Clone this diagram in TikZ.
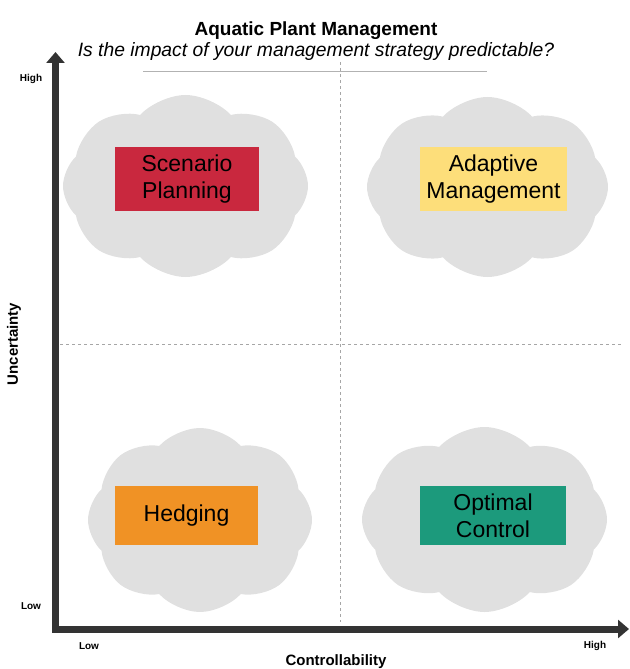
\documentclass[tikz,border=0pt]{standalone}
\usepackage{fontspec}
\setmainfont{Liberation Sans}
\usepackage{xcolor}
\usepackage{tikz}
\usetikzlibrary{arrows.meta,shapes.symbols}

\definecolor{axisgray}{HTML}{333333}
\definecolor{cloudgray}{HTML}{E0E0E0}
\definecolor{spred}{HTML}{C9283E}
\definecolor{amyellow}{HTML}{FDDE7A}
\definecolor{hedgeorange}{HTML}{F09225}
\definecolor{ocgreen}{HTML}{1C9A7C}

\begin{document}
\begin{tikzpicture}[x=1pt, y=-1pt,
  puff/.style={cloud, cloud puffs=8, cloud puff arc=95, cloud ignores aspect,
    fill=cloudgray, draw=none, inner sep=0pt, shape border rotate=10},
  strategy/.style={rectangle, draw=none, inner sep=0pt, align=center,
    font=\fontsize{23}{27}\selectfont},
  tick/.style={font=\bfseries\fontsize{10}{12}\selectfont},
  axislabel/.style={font=\bfseries\fontsize{15}{18}\selectfont},
  axis/.style={draw=axisgray, line width=7pt, line join=miter,
    {Triangle[width=18pt,length=11pt]}-{Triangle[width=18pt,length=11pt]}}]
\useasboundingbox (0,0) rectangle (629,669);
\def\midx{340}
\def\midy{344}
% clouds
\node[puff, minimum width=245pt, minimum height=182pt] (cloudtl) at (185.5,186) {};
\node[puff, minimum width=241pt, minimum height=180pt] (cloudtr) at (487.5,187) {};
\node[puff, minimum width=224pt, minimum height=184pt] (cloudbl) at (200,520) {};
\node[puff, minimum width=245pt, minimum height=185pt] (cloudbr) at (484.5,519.5) {};
% quadrant lines
\draw[gray!60, line width=0.8pt] (143,71) -- (487,71);
\draw[gray!70, dashed, line width=0.8pt] (\midx,62) -- (\midx,622);
\draw[gray!70, dashed, line width=0.8pt] (60,\midy) -- (622,\midy);
% strategies
\node[strategy, fill=spred, minimum width=144pt, minimum height=64pt] (sp) at (187,179) {Scenario\\Planning};
\node[strategy, fill=amyellow, minimum width=147pt, minimum height=64pt] (am) at (493.5,179) {Adaptive\\Management};
\node[strategy, fill=hedgeorange, minimum width=143pt, minimum height=59pt] (hedge) at (186.5,515.5) {Hedging};
\node[strategy, fill=ocgreen, minimum width=146pt, minimum height=59pt] (oc) at (493,515.5) {Optimal\\Control};
% axes
\coordinate (ytip) at (55.5,52);
\coordinate (origin) at (55.5,629);
\coordinate (xtip) at (629,629);
\draw[axis] (ytip) -- (origin) -- (xtip);
\node[tick] (yhigh) at (31,79) {High};
\node[tick] (ylow) at (31,606) {Low};
\node[tick] (xlow) at (89,646) {Low};
\node[tick] (xhigh) at (595,646) {High};
\node[axislabel] (xname) at (336,662) {Controllability};
\node[axislabel, rotate=90] (yname) at (14,344) {Uncertainty};
% title
\node[anchor=base, font=\bfseries\fontsize{19}{22}\selectfont] (title) at (316,35.5) {Aquatic Plant Management};
\node[anchor=base, font=\itshape\fontsize{19.3}{22}\selectfont] (subtitle) at (316,56.5) {Is the impact of your management strategy predictable?};
\end{tikzpicture}
\end{document}
